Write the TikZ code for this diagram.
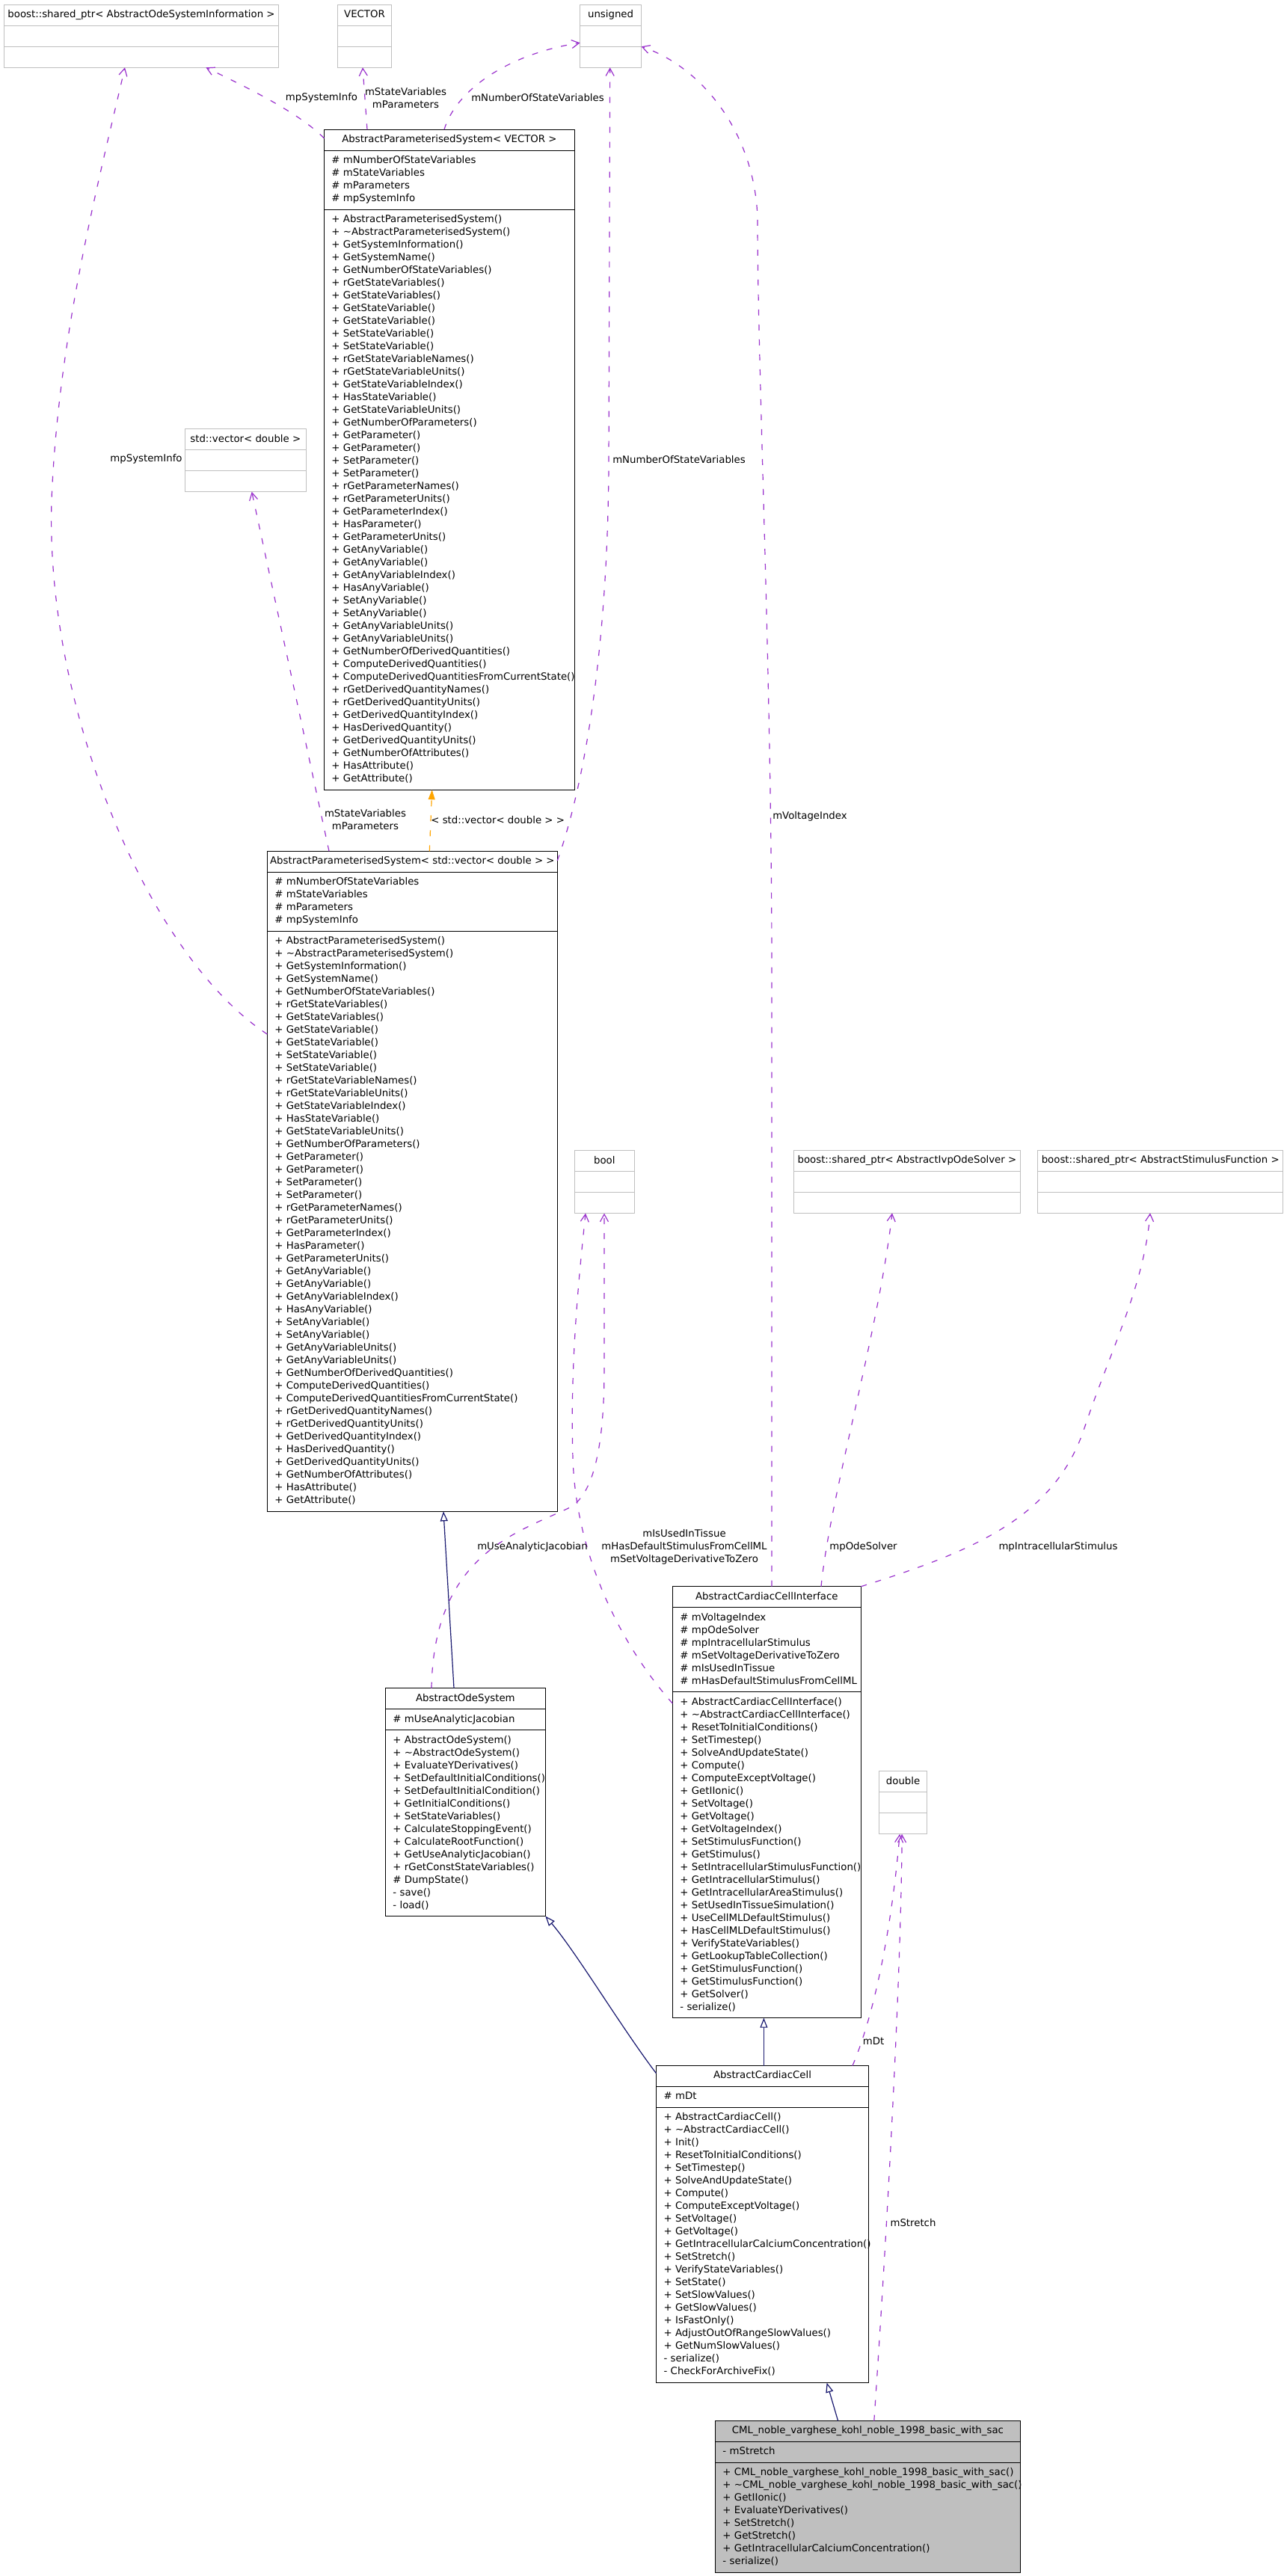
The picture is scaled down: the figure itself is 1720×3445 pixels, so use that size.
\documentclass[tikz,border=0pt]{standalone}
\usepackage{fontspec}
\setmainfont{DejaVu Sans}
\usepackage{tikz}
\usetikzlibrary{positioning,arrows.meta,calc}

\definecolor{assocpurple}{HTML}{9A32CD}
\definecolor{inhnavy}{HTML}{191970}
\definecolor{tmplorange}{HTML}{FFA500}
\definecolor{extgrey}{HTML}{BFBFBF}

\newcommand\clsfont{\fontsize{6.65pt}{8.5pt}\selectfont\hyphenpenalty=10000\relax}

\newcommand\apsattrs{\#~mNumberOfStateVariables\\\#~mStateVariables\\
  \#~mParameters\\\#~mpSystemInfo}
\newcommand\apsmethods{+~AbstractParameterisedSystem()\\
  +~\textasciitilde AbstractParameterisedSystem()\\+~GetSystemInformation()\\
  +~GetSystemName()\\+~GetNumberOfStateVariables()\\+~rGetStateVariables()\\
  +~GetStateVariables()\\+~GetStateVariable()\\+~GetStateVariable()\\
  +~SetStateVariable()\\+~SetStateVariable()\\+~rGetStateVariableNames()\\
  +~rGetStateVariableUnits()\\+~GetStateVariableIndex()\\+~HasStateVariable()\\
  +~GetStateVariableUnits()\\+~GetNumberOfParameters()\\+~GetParameter()\\
  +~GetParameter()\\+~SetParameter()\\+~SetParameter()\\+~rGetParameterNames()\\
  +~rGetParameterUnits()\\+~GetParameterIndex()\\+~HasParameter()\\
  +~GetParameterUnits()\\+~GetAnyVariable()\\+~GetAnyVariable()\\
  +~GetAnyVariableIndex()\\+~HasAnyVariable()\\+~SetAnyVariable()\\
  +~SetAnyVariable()\\+~GetAnyVariableUnits()\\+~GetAnyVariableUnits()\\
  +~GetNumberOfDerivedQuantities()\\+~ComputeDerivedQuantities()\\
  +~ComputeDerivedQuantitiesFromCurrentState()\\+~rGetDerivedQuantityNames()\\
  +~rGetDerivedQuantityUnits()\\+~GetDerivedQuantityIndex()\\
  +~HasDerivedQuantity()\\+~GetDerivedQuantityUnits()\\
  +~GetNumberOfAttributes()\\+~HasAttribute()\\+~GetAttribute()}

\tikzset{
  clsbase/.style={outer sep=0pt,inner ysep=2.75pt,font=\clsfont,line width=0.6pt,
    execute at begin node=\strut,execute at end node=\strut},
  clshead/.style={clsbase,draw=black,inner xsep=0pt,minimum width=#1,align=center},
  clspart/.style={clsbase,draw=black,inner xsep=5pt,text width=#1,align=left},
  extcls/.style={clsbase,draw=extgrey,inner xsep=0pt,minimum width=#1,
    minimum height=14pt,align=center},
  assoc/.style={draw=assocpurple,line width=0.6pt,dash pattern=on 4pt off 6pt,
    -{Straight Barb[length=5pt,width=5.5pt]}},
  inherit/.style={draw=inhnavy,line width=0.6pt,-{Triangle[open,length=6.5pt,width=5pt]}},
  tmplinst/.style={draw=tmplorange,line width=0.6pt,dash pattern=on 4pt off 6pt,
    -{Triangle[length=6.5pt,width=4.5pt]}},
  elbl/.style={font=\clsfont,align=center,inner sep=0pt},
}

\begin{document}
\begin{tikzpicture}[x=0.5pt,y=-0.5pt]
  \fill[white] (0,0) rectangle (1720,3445);
  \useasboundingbox (0,0) rectangle (1720,3445);

  \node[extcls=183.5pt,anchor=north west] (aosi) at (5.5,6.3)
    {boost::shared\_ptr< AbstractOdeSystemInformation >};
  \node[extcls=183.5pt,below=0pt of aosi] (aosi-a) {};
  \node[extcls=183.5pt,below=0pt of aosi-a] (aosi-m) {};

  \node[extcls=36pt,anchor=north west] (vec) at (451.5,6.3) {VECTOR};
  \node[extcls=36pt,below=0pt of vec] (vec-a) {};
  \node[extcls=36pt,below=0pt of vec-a] (vec-m) {};

  \node[extcls=41pt,anchor=north west] (uns) at (775.6,6.3) {unsigned};
  \node[extcls=41pt,below=0pt of uns] (uns-a) {};
  \node[extcls=41pt,below=0pt of uns-a] (uns-m) {};

  \node[extcls=81pt,anchor=north west] (stdvec) at (247.3,573.7) {std::vector< double >};
  \node[extcls=81pt,below=0pt of stdvec] (stdvec-a) {};
  \node[extcls=81pt,below=0pt of stdvec-a] (stdvec-m) {};

  \node[extcls=40pt,anchor=north west] (bool) at (768.3,1538.6) {bool};
  \node[extcls=40pt,below=0pt of bool] (bool-a) {};
  \node[extcls=40pt,below=0pt of bool-a] (bool-m) {};

  \node[extcls=151.5pt,anchor=north west] (ivp) at (1061.4,1538.3)
    {boost::shared\_ptr< AbstractIvpOdeSolver >};
  \node[extcls=151.5pt,below=0pt of ivp] (ivp-a) {};
  \node[extcls=151.5pt,below=0pt of ivp-a] (ivp-m) {};

  \node[extcls=164pt,anchor=north west] (stim) at (1387.7,1538.3)
    {boost::shared\_ptr< AbstractStimulusFunction >};
  \node[extcls=164pt,below=0pt of stim] (stim-a) {};
  \node[extcls=164pt,below=0pt of stim-a] (stim-m) {};

  \node[extcls=32pt,anchor=north west] (dbl) at (1175.6,2368.8) {double};
  \node[extcls=32pt,below=0pt of dbl] (dbl-a) {};
  \node[extcls=32pt,below=0pt of dbl-a] (dbl-m) {};

  \node[clshead=167.5pt,anchor=north west] (apsv) at (433.4,173.3)
    {AbstractParameterisedSystem< VECTOR >};
  \node[clspart=157.5pt,below=0pt of apsv] (apsv-a) {\apsattrs};
  \node[clspart=157.5pt,below=0pt of apsv-a] (apsv-m) {\apsmethods};

  \node[clshead=194pt,anchor=north west] (apsd) at (357.3,1138.3)
    {AbstractParameterisedSystem< std::vector< double > >};
  \node[clspart=184pt,below=0pt of apsd] (apsd-a) {\apsattrs};
  \node[clspart=184pt,below=0pt of apsd-a] (apsd-m) {\apsmethods};

  \node[clshead=107pt,anchor=north west] (aos) at (515.4,2257.6) {AbstractOdeSystem};
  \node[clspart=97pt,below=0pt of aos] (aos-a) {\#~mUseAnalyticJacobian};
  \node[clspart=97pt,below=0pt of aos-a] (aos-m) {+~AbstractOdeSystem()\\
    +~\textasciitilde AbstractOdeSystem()\\+~EvaluateYDerivatives()\\
    +~SetDefaultInitialConditions()\\+~SetDefaultInitialCondition()\\
    +~GetInitialConditions()\\+~SetStateVariables()\\+~CalculateStoppingEvent()\\
    +~CalculateRootFunction()\\+~GetUseAnalyticJacobian()\\
    +~rGetConstStateVariables()\\\#~DumpState()\\-~save()\\-~load()};

  \node[clshead=126pt,anchor=north west] (acci) at (899.3,2121.7)
    {AbstractCardiacCellInterface};
  \node[clspart=116pt,below=0pt of acci] (acci-a) {\#~mVoltageIndex\\\#~mpOdeSolver\\
    \#~mpIntracellularStimulus\\\#~mSetVoltageDerivativeToZero\\\#~mIsUsedInTissue\\
    \#~mHasDefaultStimulusFromCellML};
  \node[clspart=116pt,below=0pt of acci-a] (acci-m) {+~AbstractCardiacCellInterface()\\
    +~\textasciitilde AbstractCardiacCellInterface()\\+~ResetToInitialConditions()\\
    +~SetTimestep()\\+~SolveAndUpdateState()\\+~Compute()\\+~ComputeExceptVoltage()\\
    +~GetIIonic()\\+~SetVoltage()\\+~GetVoltage()\\+~GetVoltageIndex()\\
    +~SetStimulusFunction()\\+~GetStimulus()\\+~SetIntracellularStimulusFunction()\\
    +~GetIntracellularStimulus()\\+~GetIntracellularAreaStimulus()\\
    +~SetUsedInTissueSimulation()\\+~UseCellMLDefaultStimulus()\\
    +~HasCellMLDefaultStimulus()\\+~VerifyStateVariables()\\
    +~GetLookupTableCollection()\\+~GetStimulusFunction()\\+~GetStimulusFunction()\\
    +~GetSolver()\\-~serialize()};

  \node[clshead=142pt,anchor=north west] (acc) at (877.5,2762.5) {AbstractCardiacCell};
  \node[clspart=132pt,below=0pt of acc] (acc-a) {\#~mDt};
  \node[clspart=132pt,below=0pt of acc-a] (acc-m) {+~AbstractCardiacCell()\\
    +~\textasciitilde AbstractCardiacCell()\\+~Init()\\+~ResetToInitialConditions()\\
    +~SetTimestep()\\+~SolveAndUpdateState()\\+~Compute()\\+~ComputeExceptVoltage()\\
    +~SetVoltage()\\+~GetVoltage()\\+~GetIntracellularCalciumConcentration()\\
    +~SetStretch()\\+~VerifyStateVariables()\\+~SetState()\\+~SetSlowValues()\\
    +~GetSlowValues()\\+~IsFastOnly()\\+~AdjustOutOfRangeSlowValues()\\
    +~GetNumSlowValues()\\-~serialize()\\-~CheckForArchiveFix()};

  \node[clshead=204pt,fill=extgrey,anchor=north west] (cml) at (956.4,3237.5)
    {CML\_noble\_varghese\_kohl\_noble\_1998\_basic\_with\_sac};
  \node[clspart=194pt,fill=extgrey,below=0pt of cml] (cml-a) {-~mStretch};
  \node[clspart=194pt,fill=extgrey,below=0pt of cml-a] (cml-m)
    {+~CML\_noble\_varghese\_kohl\_noble\_1998\_basic\_with\_sac()\\
    +~\textasciitilde CML\_noble\_varghese\_kohl\_noble\_1998\_basic\_with\_sac()\\
    +~GetIIonic()\\+~EvaluateYDerivatives()\\+~SetStretch()\\+~GetStretch()\\
    +~GetIntracellularCalciumConcentration()\\-~serialize()};

  \draw[assoc] ($(apsv.north west)+(0,11.7)$) .. controls (400,150) and (320,112)
    .. ($(aosi-m.south west)+(269.9,0)$);
  \draw[assoc] ($(apsv.north west)+(57.6,0)$) -- ($(vec-m.south west)+(33.5,0)$);
  \draw[assoc] ($(apsv.north west)+(160.6,0)$) .. controls (610,120) and (680,72)
    .. ($(uns-a.south west)+(0,-5)$);
  \draw[assoc] ($(apsd.north west)+(0,244.7)$) .. controls (200,1280) and (60,950)
    .. (69,668) .. controls (78,450) and (130,250) .. ($(aosi-m.south west)+(161.5,0)$);
  \draw[assoc] ($(apsd.north west)+(82.7,0)$) -- ($(stdvec-m.south west)+(89.4,0)$);
  \draw[assoc] ($(apsd.north east)+(0,12.7)$) .. controls (785,1040) and (813,850)
    .. (814,620) -- ($(uns-m.south west)+(40.1,0)$);
  \draw[tmplinst] ($(apsd.north west)+(217,0)$) -- ($(apsv-m.south west)+(144.3,0)$);
  \draw[assoc] ($(acci.north west)+(132.7,0)$) -- (1032,1300) .. controls (1032,900)
    and (1013,500) .. (1013,293) .. controls (1010,180) and (940,90) .. (uns-a.south east);
  \draw[assoc] ($(acci.north west)+(198.7,0)$) .. controls (1110,2000) and (1175,1780)
    .. ($(ivp-m.south west)+(131.6,0)$);
  \draw[assoc] (acci.north east) .. controls (1300,2075) and (1410,2030) .. (1450,1910)
    .. controls (1485,1805) and (1530,1720) .. ($(stim-m.south west)+(150.3,0)$);
  \draw[assoc] ($(acci.north west)+(0,156.3)$) .. controls (830,2200) and (770,2080)
    .. (766,1950) .. controls (762,1820) and (775,1700) .. ($(bool-m.south west)+(14.7,0)$);
  \draw[assoc] ($(aos.north west)+(61.6,0)$) .. controls (580,2080) and (690,2050)
    .. (760,2017) .. controls (795,2000) and (808,1930) .. (808,1830)
    -- ($(bool-m.south west)+(39.7,0)$);
  \draw[inherit] ($(aos.north west)+(91.6,0)$) -- ($(apsd-m.south west)+(235.7,0)$);
  \draw[inherit] ($(acc.north west)+(143.9,0)$) -- ($(acci-m.south west)+(122.1,0)$);
  \draw[inherit] ($(acc.north west)+(0,10.3)$) .. controls (830,2710) and (770,2610)
    .. (aos-m.south east);
  \draw[inherit] ($(cml.north west)+(164.2,0)$) -- ($(acc-m.south west)+(228.1,0)$);
  \draw[assoc] ($(acc.north west)+(262.5,0)$) .. controls (1175,2680) and (1195,2550)
    .. ($(dbl-m.south west)+(27.5,0)$);
  \draw[assoc] ($(cml.north west)+(212.4,0)$) .. controls (1185,3000) and (1205,2650)
    .. ($(dbl-m.south west)+(30.5,0)$);

  \node[elbl] (l-sysinfo-v) at (430,130.7) {mpSystemInfo};
  \node[elbl] (l-statevars-v) at (542.5,131.2) {mStateVariables\\mParameters};
  \node[elbl] (l-numvars-v) at (719,130.7) {mNumberOfStateVariables};
  \node[elbl] (l-sysinfo-d) at (195.5,613.5) {mpSystemInfo};
  \node[elbl] (l-statevars-d) at (488.5,1096) {mStateVariables\\mParameters};
  \node[elbl] (l-numvars-d) at (908,615) {mNumberOfStateVariables};
  \node[elbl] (l-tmpl) at (665.7,1096.3) {< std::vector< double > >};
  \node[elbl] (l-vindex) at (1083,1092) {mVoltageIndex};
  \node[elbl] (l-solver) at (1154.5,2069) {mpOdeSolver};
  \node[elbl] (l-stim) at (1415,2069) {mpIntracellularStimulus};
  \node[elbl] (l-flags) at (915,2069)
    {mIsUsedInTissue\\mHasDefaultStimulusFromCellML\\mSetVoltageDerivativeToZero};
  \node[elbl] (l-jacobian) at (712,2069) {mUseAnalyticJacobian};
  \node[elbl] (l-dt) at (1168,2729.5) {mDt};
  \node[elbl] (l-stretch) at (1221,2973) {mStretch};
\end{tikzpicture}
\end{document}
